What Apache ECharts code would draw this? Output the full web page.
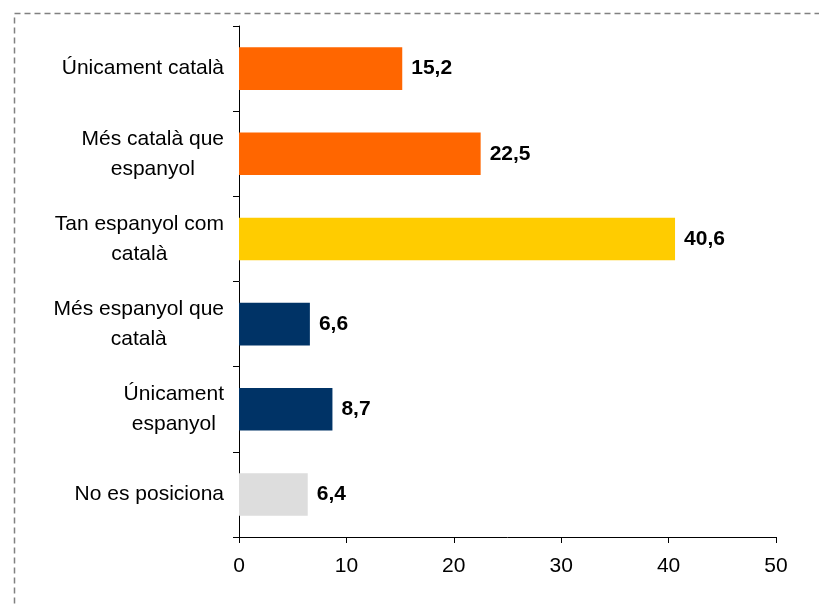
<!DOCTYPE html>
<html>
<head>
<meta charset="utf-8">
<script src="https://cdn.jsdelivr.net/npm/echarts@6/dist/echarts.min.js"></script>
<style>html,body{margin:0;padding:0;background:#fff}#c{width:819px;height:605px}</style>
</head>
<body>
<div id="c"></div>
<script>
const categories = ['Únicament català', 'Més català que\nespanyol', 'Tan espanyol com\ncatalà', 'Més espanyol que\ncatalà', 'Únicament\nespanyol', 'No es posiciona'];
const values = [15.2, 22.5, 40.6, 6.6, 8.7, 6.4];
const barColors = ['#FF6600', '#FF6600', '#FFCC00', '#003366', '#003366', '#DDDDDD'];
const xTicks = [0, 10, 20, 30, 40, 50];

const chart = echarts.init(document.getElementById('c'), null, {renderer: 'canvas'});
const FONT = 'Liberation Sans, Arial, sans-serif';
chart.setOption({
  animation: false,
  backgroundColor: '#fff',
  graphic: [{
    type: 'rect', left: 12, top: 11, z: -1,
    shape: {width: 900, height: 700},
    style: {fill: 'none', stroke: '#808080', lineWidth: 1.5, lineDash: [6, 4]}
  }],
  grid: {left: 239, right: 43, top: 26, bottom: 68, containLabel: false},
  xAxis: {
    type: 'value', min: xTicks[0], max: xTicks[xTicks.length - 1], interval: 10,
    axisLine: {show: true, lineStyle: {color: '#000', width: 1}},
    axisTick: {show: true, length: 6, lineStyle: {color: '#000'}},
    splitLine: {show: false},
    axisLabel: {fontFamily: FONT, fontSize: 21, color: '#000', margin: 19}
  },
  yAxis: {
    type: 'category', inverse: true, data: categories,
    axisLine: {show: true, lineStyle: {color: '#000', width: 1}},
    axisTick: {show: true, length: 6, lineStyle: {color: '#000'}},
    axisLabel: {
      margin: 15, align: 'right', color: '#000', fontFamily: FONT, fontSize: 21, lineHeight: 30,
      formatter: v => v.split('\n').map(l => '{c|' + l + '}').join('\n'),
      rich: {c: {align: 'center', fontFamily: FONT, fontSize: 21, lineHeight: 30, color: '#000'}}
    }
  },
  series: [{
    type: 'bar',
    barCategoryGap: '50%',
    data: values.map((v, i) => ({value: v, itemStyle: {color: barColors[i]}})),
    label: {
      show: true, position: 'right', distance: 9,
      fontFamily: FONT, fontSize: 21, fontWeight: 'bold', color: '#000',
      formatter: p => String(p.value).replace('.', ',')
    }
  }]
});
</script>
</body>
</html>
